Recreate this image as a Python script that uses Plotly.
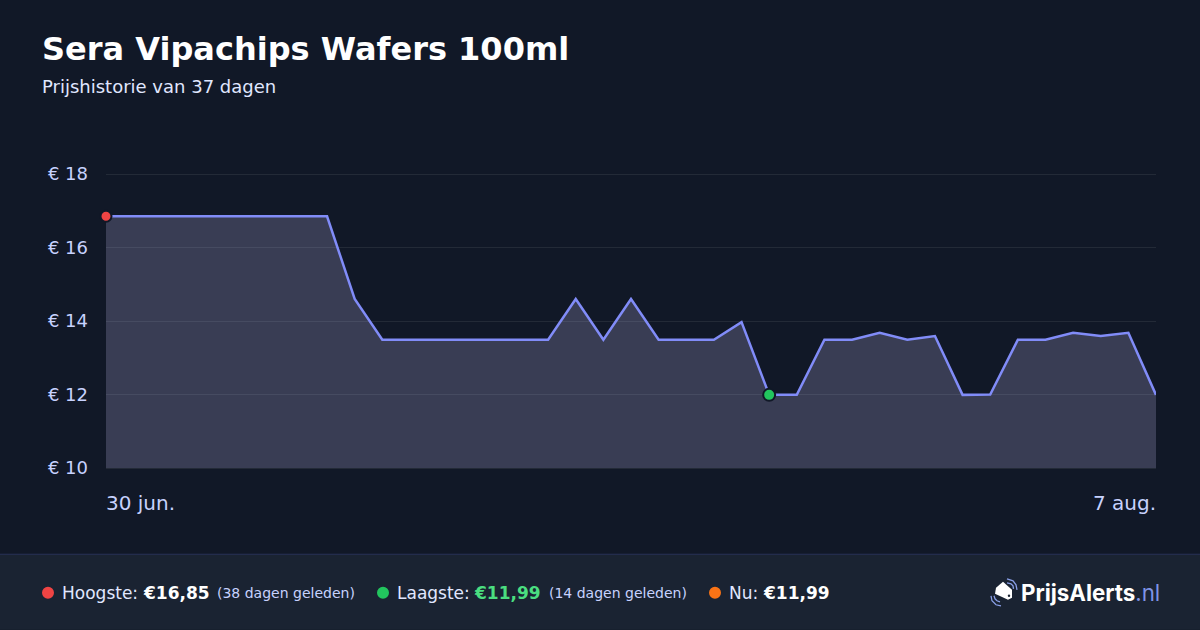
import plotly.graph_objects as go

dates = [
    "2025-06-30", "2025-07-01", "2025-07-02", "2025-07-03", "2025-07-04", "2025-07-05",
    "2025-07-06", "2025-07-07", "2025-07-08", "2025-07-09", "2025-07-10", "2025-07-11",
    "2025-07-12", "2025-07-13", "2025-07-14", "2025-07-15", "2025-07-16", "2025-07-17",
    "2025-07-18", "2025-07-19", "2025-07-20", "2025-07-21", "2025-07-22", "2025-07-23",
    "2025-07-24", "2025-07-25", "2025-07-26", "2025-07-27", "2025-07-28", "2025-07-29",
    "2025-07-30", "2025-07-31", "2025-08-01", "2025-08-02", "2025-08-03", "2025-08-04",
    "2025-08-05", "2025-08-06", "2025-08-07",
]
prices = [
    16.85, 16.85, 16.85, 16.85, 16.85, 16.85, 16.85, 16.85, 16.85, 14.6,
    13.49, 13.49, 13.49, 13.49, 13.49, 13.49, 13.49, 14.6, 13.49, 14.6,
    13.49, 13.49, 13.49, 13.97, 11.99, 11.99, 13.49, 13.49, 13.68, 13.49,
    13.59, 11.99, 12.0, 13.49, 13.49, 13.68, 13.59, 13.68, 11.99,
]
y_ticks = [10, 12, 14, 16, 18]
y_labels = ["€ 10", "€ 12", "€ 14", "€ 16", "€ 18"]
baseline = [10] * len(dates)
high_idx = 0
low_idx = 24

W, H = 1200, 630
L, R, T, B = 106, 1156, 171.5, 470  # plot box, 2px wider than 10-18 so both end gridlines survive
FONT = "DejaVu Sans"
BG = "#111827"
FOOT = "#1a2332"
LINE = "#818cf8"
SOFT = "#c7d2fe"


def px_x(x):
    return (x - L) / (R - L)


def px_y(y):
    return (B - y) / (B - T)


def text(fig, x, y, s, size, color, anchor="left", family=FONT):
    fig.add_annotation(
        x=px_x(x), y=px_y(y), xref="paper", yref="paper", text=s, showarrow=False,
        xanchor=anchor, yanchor="middle", align=anchor, borderpad=0, borderwidth=0,
        font=dict(family=family, size=size, color=color),
    )


def rect(fig, x0, y0, x1, y1, color):
    fig.add_shape(
        type="rect", xref="paper", yref="paper", layer="below", line_width=0, fillcolor=color,
        x0=px_x(x0), x1=px_x(x1), y0=px_y(y0), y1=px_y(y1),
    )


def dot(fig, x, y, r, color):
    fig.add_shape(
        type="circle", xref="paper", yref="paper", line_width=0, fillcolor=color,
        x0=px_x(x - r), x1=px_x(x + r), y0=px_y(y - r), y1=px_y(y + r),
    )


def path(fig, pts, fill=None, line=None, width=0):
    d = "M" + " L".join(f"{px_x(x):.5f},{px_y(y):.5f}" for x, y in pts)
    if fill:
        d += " Z"
    fig.add_shape(
        type="path", xref="paper", yref="paper", path=d, fillcolor=fill,
        line=dict(color=line or "rgba(0,0,0,0)", width=width),
    )


fig = go.Figure()
fig.add_trace(go.Scatter(x=dates, y=baseline, mode="lines", line_width=0, hoverinfo="skip"))
fig.add_trace(go.Scatter(
    x=dates, y=prices, mode="lines", fill="tonexty", fillcolor="rgba(189,184,235,0.235)",
    line=dict(color=LINE, width=2.5), hoverinfo="skip", cliponaxis=False,
))
fig.add_trace(go.Scatter(
    x=[dates[high_idx]], y=[prices[high_idx]], mode="markers", cliponaxis=False,
    marker=dict(size=11, color="#ef4444", line=dict(color=BG, width=2)),
))
fig.add_trace(go.Scatter(
    x=[dates[low_idx]], y=[prices[low_idx]], mode="markers", cliponaxis=False,
    marker=dict(size=12, color="#22c55e", line=dict(color=BG, width=2)),
))

rect(fig, 0, 555, W, H, FOOT)
rect(fig, 0, 553.8, W, 555, "#2a3358")

text(fig, 42, 48, "<b>Sera Vipachips Wafers 100ml</b>", 32, "#ffffff")
text(fig, 42, 85.5, "Prijshistorie van 37 dagen", 18, "#e0e7ff")
text(fig, 106, 503, "30 jun.", 20, SOFT)
text(fig, 1156, 503, "7 aug.", 20, SOFT, anchor="right")

dot(fig, 48, 593, 6, "#ef4444")
text(fig, 62, 593, "Hoogste:", 17, "#e0e7ff")
text(fig, 142.5, 593, "<b>€16,85</b>", 17, "#ffffff")
text(fig, 217, 593, "(38 dagen geleden)", 14, SOFT)
dot(fig, 383, 593, 6, "#22c55e")
text(fig, 397, 593, "Laagste:", 17, "#e0e7ff")
text(fig, 474, 593, "<b>€11,99</b>", 17, "#4ade80")
text(fig, 549, 593, "(14 dagen geleden)", 14, SOFT)
dot(fig, 715, 593, 6, "#f97316")
text(fig, 729, 593, "Nu:", 17, "#e0e7ff")
text(fig, 762.5, 593, "<b>€11,99</b>", 17, "#ffffff")

# logo: tag plus signal arcs
path(fig, [(1003, 582), (1012, 590), (1012, 598), (1008, 600), (995, 594), (996, 588)], fill="#ffffff")
dot(fig, 1009, 596, 1.2, FOOT)
path(fig, [(1007, 579), (1013, 581), (1016, 585), (1017, 590)], line="#8aa0e8", width=1.3)
path(fig, [(1007, 583), (1011, 584), (1013, 586), (1013.5, 589)], line="#8aa0e8", width=1.3)
path(fig, [(991, 596), (992, 601), (996, 605), (1001, 606)], line="#8aa0e8", width=1.3)
path(fig, [(994, 596), (995, 599), (997, 601), (1000, 602)], line="#8aa0e8", width=1.3)
text(fig, 1021, 593, "<b>PrijsAlerts</b><span style='color:#7f93e6'>.nl</span>", 22.3, "#ffffff", family="Inter")

fig.update_xaxes(
    range=[dates[0], dates[-1]], showgrid=False, zeroline=False, showline=False,
    showticklabels=False, ticks="",
)
fig.update_yaxes(
    range=[10 - 2 / 36.81, 18 + 2 / 36.81], tickvals=y_ticks, ticktext=y_labels, showgrid=True,
    gridcolor="rgba(255,255,255,0.08)", gridwidth=1, zeroline=False, showline=False, ticks="",
    ticklabelstandoff=17, tickfont=dict(family=FONT, size=18, color=SOFT),
)
fig.update_layout(
    width=W, height=H, showlegend=False, paper_bgcolor=BG, plot_bgcolor=BG,
    margin=dict(l=L, r=W - R, t=T, b=H - B, pad=0),
)

fig.write_html(
    "out.html",
    config={"displayModeBar": False},
    post_script="document.body.style.margin='0';document.body.style.background='#111827';",
)
